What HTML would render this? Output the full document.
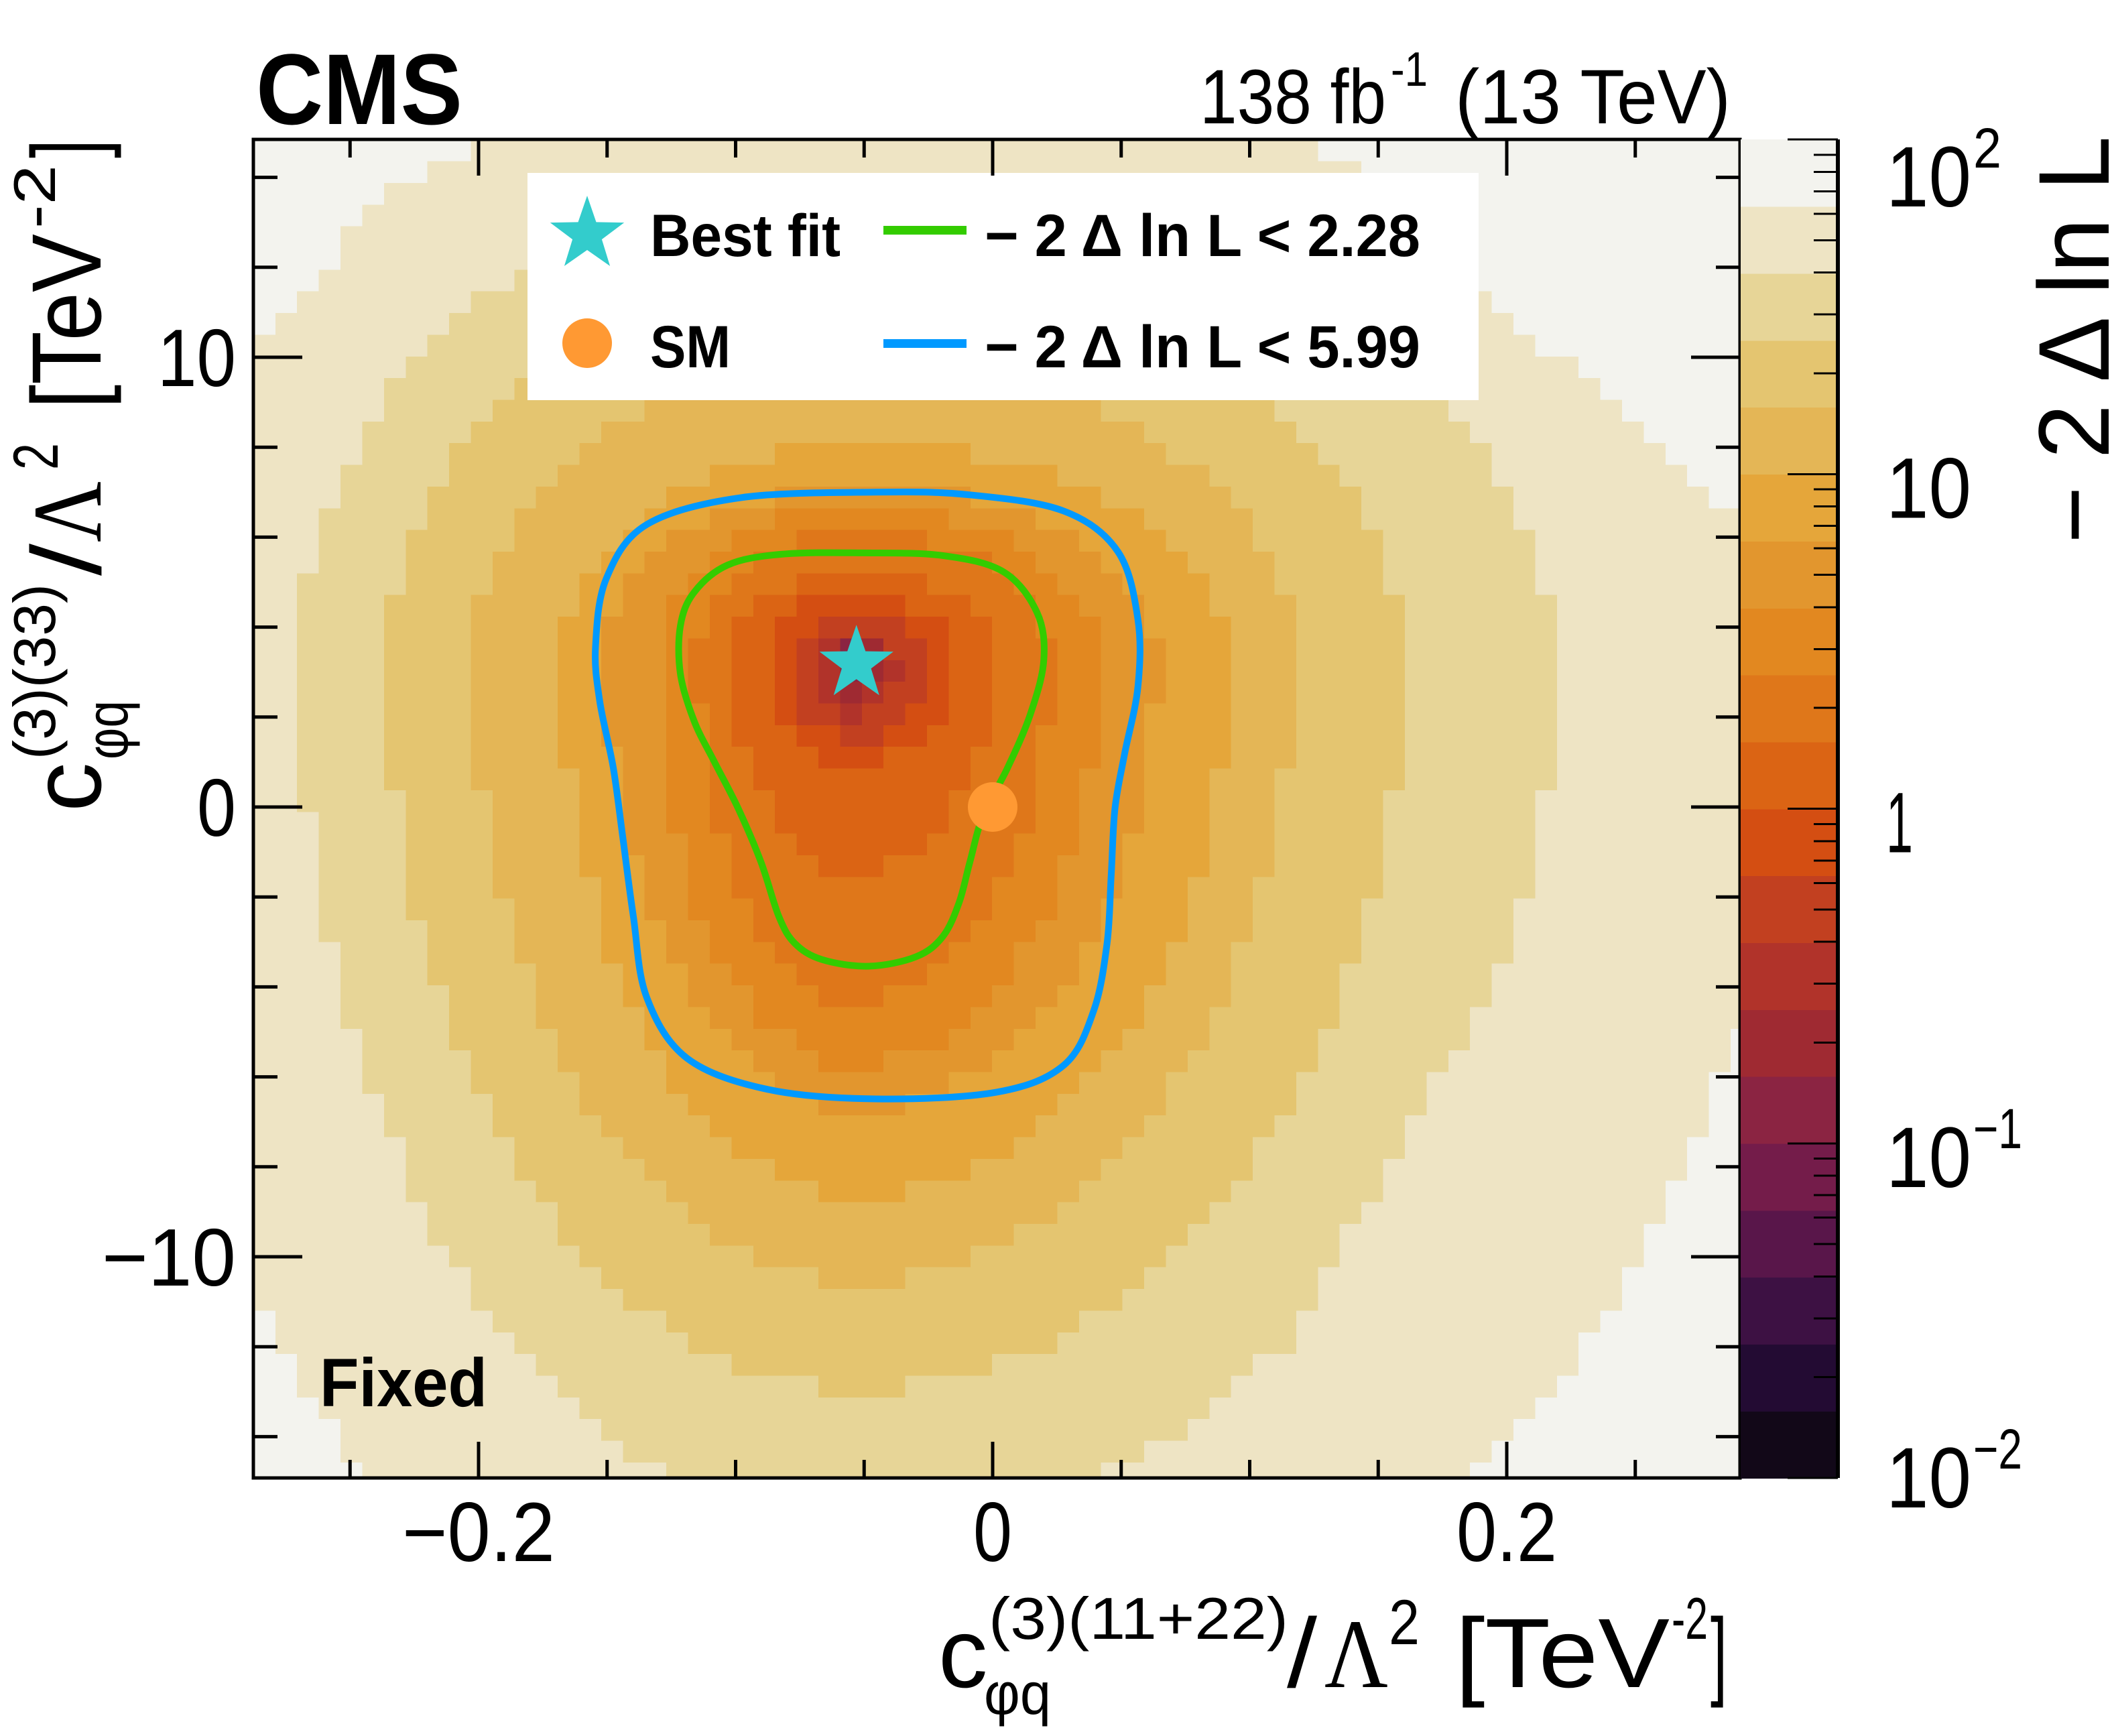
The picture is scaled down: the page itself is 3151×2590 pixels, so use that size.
<!DOCTYPE html>
<html><head><meta charset="utf-8"><style>
html,body{margin:0;padding:0;background:#fff;}
svg{display:block;}
text{font-family:"Liberation Sans",Arial,sans-serif;fill:#000;}
</style></head>
<body>
<svg id="chart" xmlns="http://www.w3.org/2000/svg" width="3151" height="2590" viewBox="0 0 3151 2590">
<rect x="0" y="0" width="3151" height="2590" fill="#fff"/>
<g id="heatmap" shape-rendering="crispEdges"></g>
<g id="contours"></g>
<g id="markers"></g>
<g id="legend">
  <rect x="787" y="258" width="1419" height="339" fill="#fff"/>
  <polygon id="legStar" fill="#33CCCC"/>
  <text x="970" y="382" font-size="89" font-weight="bold" textLength="284" lengthAdjust="spacingAndGlyphs">Best fit</text>
  <rect x="1318" y="337" width="124" height="13" fill="#33CC00"/>
  <text x="1469" y="382" font-size="89" font-weight="bold" textLength="650" lengthAdjust="spacingAndGlyphs">− 2  Δ ln L &lt; 2.28</text>
  <circle cx="876" cy="512" r="37" fill="#FF9933"/>
  <text x="970" y="548" font-size="89" font-weight="bold" textLength="120" lengthAdjust="spacingAndGlyphs">SM</text>
  <rect x="1318" y="506" width="124" height="13" fill="#0099FF"/>
  <text x="1469" y="548" font-size="89" font-weight="bold" textLength="650" lengthAdjust="spacingAndGlyphs">− 2  Δ ln L &lt; 5.99</text>
</g>
<g id="axes"></g>
<rect x="378" y="208" width="2218" height="1997" fill="none" stroke="#000" stroke-width="5"/>
<g id="colorbar" shape-rendering="crispEdges"></g>

<text x="382" y="185" font-size="150" font-weight="bold" textLength="308" lengthAdjust="spacingAndGlyphs">CMS</text>
<text x="1790" y="184" font-size="115" textLength="278" lengthAdjust="spacingAndGlyphs">138 fb</text>
<text x="2075" y="128" font-size="72" textLength="55" lengthAdjust="spacingAndGlyphs">-1</text>
<text x="2171" y="184" font-size="115" textLength="411" lengthAdjust="spacingAndGlyphs">(13 TeV)</text>
<text x="477" y="2098" font-size="102" font-weight="bold" textLength="250" lengthAdjust="spacingAndGlyphs">Fixed</text>

<g transform="translate(1400,2517)">
  <text x="0" y="0" font-size="147">c</text>
  <text x="75" y="-72" font-size="88" textLength="447" lengthAdjust="spacingAndGlyphs">(3)(11+22)</text>
  <text x="68" y="40" font-size="88" textLength="100" lengthAdjust="spacingAndGlyphs">φq</text>
  <text x="520" y="0" font-size="147" textLength="45" lengthAdjust="spacingAndGlyphs">/</text>
  <text x="576" y="0" font-size="147" textLength="95" lengthAdjust="spacingAndGlyphs" style="font-family:'Liberation Serif',serif">Λ</text>
  <text x="672" y="-64" font-size="95" textLength="46" lengthAdjust="spacingAndGlyphs">2</text>
  <text x="771" y="0" font-size="147" textLength="320" lengthAdjust="spacingAndGlyphs">[TeV</text>
  <text x="1094" y="-72" font-size="88" textLength="54" lengthAdjust="spacingAndGlyphs">-2</text>
  <text x="1152" y="0" font-size="147" textLength="25" lengthAdjust="spacingAndGlyphs">]</text>
</g>
<g transform="translate(150,1211) rotate(-90)">
  <text x="0" y="0" font-size="147">c</text>
  <text x="78" y="-68" font-size="88" textLength="262" lengthAdjust="spacingAndGlyphs">(3)(33)</text>
  <text x="78" y="40" font-size="88" textLength="88" lengthAdjust="spacingAndGlyphs">φq</text>
  <text x="352" y="0" font-size="147" textLength="48" lengthAdjust="spacingAndGlyphs">/</text>
  <text x="402" y="0" font-size="147" textLength="91" lengthAdjust="spacingAndGlyphs" style="font-family:'Liberation Serif',serif">Λ</text>
  <text x="510" y="-64" font-size="95" textLength="40" lengthAdjust="spacingAndGlyphs">2</text>
  <text x="601" y="0" font-size="147" textLength="261" lengthAdjust="spacingAndGlyphs">[TeV</text>
  <text x="870" y="-68" font-size="88" textLength="95" lengthAdjust="spacingAndGlyphs">-2</text>
  <text x="975" y="0" font-size="147" textLength="28" lengthAdjust="spacingAndGlyphs">]</text>
</g>
<text transform="translate(3146,811) rotate(-90)" x="0" y="0" font-size="150" textLength="608" lengthAdjust="spacingAndGlyphs">− 2  Δ ln L</text>
</svg>
<script>
// ---- data ----
const bestFit = [-0.053, 3.26];
const smPoint = [0.0, 0.0];
// colour bands of the z palette (index 0 = 1e-2 ... index 19 = up to 1e2)
const bandColors = ["#120818","#230B33","#3D1143","#59164A","#741C4A","#8B2442","#9F2A32","#B1332A","#C24020","#D44E12","#DB6414","#DF771A","#E28820","#E2962E","#E5A63A","#E4B656","#E4C570","#E7D597","#EEE4C4","#F3F3EE"];
// level boundaries of -2ΔlnL bands (band index reached when crossing) — extents from best fit
const levelBand  = [6, 7, 8, 9, 10, 11, 12, 13, 14, 15, 16, 17, 18, 19];
const levelLeft  = [0.004,0.008,0.013,0.026,0.036,0.048,0.062,0.078,0.097,0.114,0.149,0.183,0.217,0.285];
const levelRight = [0.005,0.010,0.016,0.029,0.039,0.053,0.075,0.094,0.117,0.145,0.170,0.212,0.271,0.363];
const levelUp    = [0.3,0.45,0.6,1.0,1.5,2.0,2.9,3.4,3.9,4.8,6.7,8.8,10.8,13.4];
const levelDown  = [0.4,0.9,1.3,1.8,2.3,4.7,7.6,9.0,10.0,11.9,13.8,16.2,19.3,24.5];
const minBand = 5;
// diagonal (straight-line) cut-offs of the outer bands in each quadrant; 0 = none
const diagBand = [17, 18, 19];
const diagTLx = [0, 0, 0.332], diagTLy = [0, 0, 23.3];
const diagTRx = [0, 0, 0.404], diagTRy = [0, 0, 20.8];
const diagBLx = [0, 0, 0.406], diagBLy = [0, 0, 35.8];
const diagBRx = [0.25, 0.319, 0.527], diagBRy = [31.8, 32.1, 33.3];
// contours
const greenX = [-0.0508,-0.0194,0.0042,0.0173,0.0199,0.0147,0.0058,-0.0037,-0.0089,-0.0131,-0.0194,-0.0298,-0.0482,-0.0665,-0.0770,-0.0832,-0.0901,-0.0990,-0.1084,-0.1162,-0.1215,-0.1215,-0.1162,-0.1031,-0.0822];
const greenY = [5.65,5.59,5.23,4.32,3.27,2.07,0.87,-0.18,-1.23,-2.13,-2.88,-3.33,-3.54,-3.39,-3.03,-2.43,-1.23,-0.03,1.02,1.92,2.97,4.02,4.77,5.38,5.62];
const blueX = [-0.0455,-0.0089,0.0277,0.0487,0.0565,0.0565,0.0513,0.0476,0.0461,0.0445,0.0393,0.0277,0.0016,-0.0455,-0.0874,-0.1188,-0.1346,-0.1398,-0.1440,-0.1476,-0.1529,-0.1545,-0.1503,-0.1346,-0.0979];
const blueY = [7.00,6.94,6.58,5.68,4.17,2.67,1.17,-0.03,-1.53,-3.03,-4.53,-5.74,-6.34,-6.49,-6.28,-5.59,-4.23,-2.43,-0.63,0.87,2.37,3.57,5.08,6.28,6.88];
const xTickMajor = [-0.2, 0, 0.2];
const xTickLabels = ["−0.2", "0", "0.2"];
const yTickMajor = [-10, 0, 10];
const yTickLabels = ["−10", "0", "10"];
const zDecades = [-2, -1, 0, 1, 2];

// ---- axes ----
const NS = "http://www.w3.org/2000/svg";
const PL = 378, PR = 2596, PT = 208, PB = 2205;
const xmin = -0.2875, xmax = 0.2907, ymin = -14.92, ymax = 14.84;
function X(v){ return 1481 + v * 3835; }
function Y(v){ return 1204 - v * 67.1; }
function Z(v){ return PB - (Math.log10(v) + 2) / 4 * (PB - PT); }
function mk(tag, attrs, parent){ const e = document.createElementNS(NS, tag); for (const k in attrs) e.setAttribute(k, attrs[k]); parent.appendChild(e); return e; }

// ---- heatmap ----
const hm = document.getElementById('heatmap');
const cw = 0.00845, ch = 0.4822;
function bandAt(x, y){
  const dx = x - bestFit[0], dy = y - bestFit[1];
  let b = minBand;
  for (let i = 0; i < levelBand.length; i++){
    const sx = dx < 0 ? levelLeft[i] : levelRight[i];
    const sy = dy > 0 ? levelUp[i] : levelDown[i];
    if ((dx/sx)*(dx/sx) + (dy/sy)*(dy/sy) > 1) b = Math.max(b, levelBand[i]);
  }
  for (let i = 0; i < diagBand.length; i++){
    let ax, ay;
    if (dx < 0 && dy >= 0){ ax = diagTLx[i]; ay = diagTLy[i]; }
    else if (dx >= 0 && dy >= 0){ ax = diagTRx[i]; ay = diagTRy[i]; }
    else if (dx < 0){ ax = diagBLx[i]; ay = diagBLy[i]; }
    else { ax = diagBRx[i]; ay = diagBRy[i]; }
    if (ax > 0 && Math.abs(dx)/ax + Math.abs(dy)/ay > 1) b = Math.max(b, diagBand[i]);
  }
  return Math.min(b, 19);
}
for (let i = 0; xmin + i*cw < xmax; i++){
  const x0 = xmin + i*cw, x1 = Math.min(x0 + cw, xmax);
  for (let j = 0; ymax - j*ch > ymin; j++){
    const y1 = ymax - j*ch, y0 = Math.max(y1 - ch, ymin);
    const b = bandAt((x0+x1)/2, (y0+y1)/2);
    const r = mk('rect', {x: X(x0).toFixed(1), y: Y(y1).toFixed(1), width: (X(x1)-X(x0)+0.8).toFixed(1), height: (Y(y0)-Y(y1)+0.8).toFixed(1), fill: bandColors[b]}, hm);
    
    
  }
}

// ---- contours ----
function smoothPath(xs, ys){
  const n = xs.length, P = xs.map((x,i)=>[X(x), Y(ys[i])]);
  let d = 'M' + P[0][0].toFixed(1) + ',' + P[0][1].toFixed(1);
  for (let i = 0; i < n; i++){
    const p0 = P[(i-1+n)%n], p1 = P[i], p2 = P[(i+1)%n], p3 = P[(i+2)%n];
    const c1 = [p1[0]+(p2[0]-p0[0])/6, p1[1]+(p2[1]-p0[1])/6];
    const c2 = [p2[0]-(p3[0]-p1[0])/6, p2[1]-(p3[1]-p1[1])/6];
    d += 'C' + c1.map(v=>v.toFixed(1)).join(',') + ' ' + c2.map(v=>v.toFixed(1)).join(',') + ' ' + p2.map(v=>v.toFixed(1)).join(',');
  }
  return d + 'Z';
}
const cg = document.getElementById('contours');
const gp = mk('path', {d: smoothPath(greenX, greenY), fill: 'none', stroke: '#33CC00', 'stroke-width': 10}, cg);


const bp = mk('path', {d: smoothPath(blueX, blueY), fill: 'none', stroke: '#0099FF', 'stroke-width': 10}, cg);



// ---- markers ----
function starPts(cx, cy, R, r){
  const pts = [];
  for (let k = 0; k < 10; k++){
    const a = -Math.PI/2 + k*Math.PI/5, rr = k%2 ? r : R;
    pts.push((cx + rr*Math.cos(a)).toFixed(1) + ',' + (cy + rr*Math.sin(a)).toFixed(1));
  }
  return pts.join(' ');
}
const mg = document.getElementById('markers');
const sm = mk('circle', {cx: X(smPoint[0]), cy: Y(smPoint[1]), r: 37, fill: '#FF9933'}, mg);


const st = mk('polygon', {points: starPts(X(bestFit[0]), Y(bestFit[1]) + 5, 58, 23), fill: '#33CCCC'}, mg);


document.getElementById('legStar').setAttribute('points', starPts(876, 350, 58, 23));

// ---- axis ticks and labels ----
const ax = document.getElementById('axes');
function line(x1,y1,x2,y2,name){ const l = mk('line',{x1,y1,x2,y2,stroke:'#000','stroke-width':5},ax);   }
for (let k = -5; k <= 5; k++){
  const v = k*0.05, px = X(v), major = xTickMajor.some(m => Math.abs(m - v) < 1e-9), L = major ? 54 : 27;
  line(px, PB, px, PB - L, 'x-tick');
  line(px, PT, px, PT + L, 'x-tick-top');
}
for (let k = -7; k <= 7; k++){
  const v = k*2, py = Y(v), major = yTickMajor.indexOf(v) >= 0, L = major ? 73 : 36;
  line(PL, py, PL + L, py, 'y-tick');
  line(PR, py, PR - L, py, 'y-tick-right');
}
const xLabW = [228, 58, 150];
xTickMajor.forEach((v, i) => {
  const t = mk('text', {x: X(v), y: 2329, 'font-size': 125, 'text-anchor': 'middle', textLength: xLabW[i], lengthAdjust: 'spacingAndGlyphs'}, ax);
  t.textContent = xTickLabels[i];
  
  
});
const yLabW = [200, 58, 117];
yTickMajor.forEach((v, i) => {
  const t = mk('text', {x: 352, y: Y(v) + 43, 'font-size': 122, 'text-anchor': 'end', textLength: yLabW[i], lengthAdjust: 'spacingAndGlyphs'}, ax);
  t.textContent = yTickLabels[i];
  
  
});

// ---- colorbar ----
const cb = document.getElementById('colorbar');
const CBL = 2597, CBR = 2742;
bandColors.forEach((c, i) => {
  const lo = Math.pow(10, -2 + 0.2*i), hi = Math.pow(10, -2 + 0.2*(i+1));
  const r = mk('rect', {x: CBL, y: Z(hi).toFixed(1), width: CBR - CBL, height: (Z(lo) - Z(hi) + 0.8).toFixed(1), fill: c}, cb);
  
  
});
const cax = mk('line', {x1: CBR, y1: PT, x2: CBR, y2: PB, stroke: '#000', 'stroke-width': 6}, cb);


for (let d = -2; d < 2; d++){
  for (let m = 1; m <= 9; m++){
    const v = m * Math.pow(10, d), py = Z(v), L = m === 1 ? 75 : 36;
    const l = mk('line', {x1: CBR, y1: py, x2: CBR - L, y2: py, stroke: '#000', 'stroke-width': 3}, cb);
    
    
  }
}
const l100 = mk('line', {x1: CBR, y1: Z(100), x2: CBR - 75, y2: Z(100), stroke: '#000', 'stroke-width': 3}, cb);


zDecades.forEach(d => {
  const base = Z(Math.pow(10, d));
  const by = d === 2 ? 308 : (d === -2 ? 2249 : base + 65);
  const t = mk('text', {x: 2814, y: by, 'font-size': 128, textLength: d === 0 ? 40 : 127, lengthAdjust: 'spacingAndGlyphs'}, cb);
  t.textContent = d === 0 ? '1' : '10';
  
  
  if (d !== 0 && d !== 1){
    const s = mk('text', {x: 2944, y: by - 58, 'font-size': 84, textLength: d < 0 ? 73 : 42, lengthAdjust: 'spacingAndGlyphs'}, cb);
    s.textContent = d < 0 ? '−' + (-d) : String(d);
    
    
  }
});
</script>
</body></html>
